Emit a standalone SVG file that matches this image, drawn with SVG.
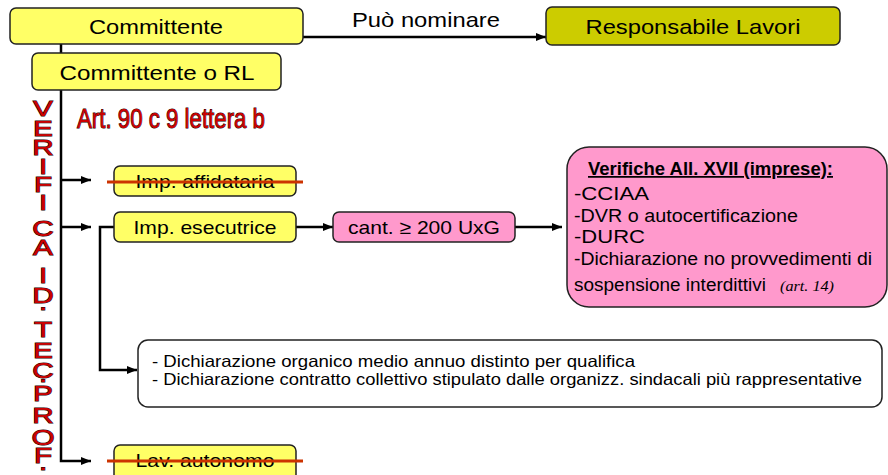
<svg xmlns="http://www.w3.org/2000/svg" width="888" height="475" viewBox="0 0 888 475">
<defs>
<marker id="arr" markerUnits="userSpaceOnUse" markerWidth="10" markerHeight="8" refX="10" refY="4" orient="auto">
<path d="M0,0 L10,4 L0,8 z" fill="#000"/>
</marker>
<style>
.box{stroke:#222;stroke-width:1.5}
.yel{fill:#ffff66}
.olive{fill:#cccc00}
.pink{fill:#ff99cc}
.wht{fill:#fff}
.t{font-family:"Liberation Sans",Arial,sans-serif;fill:#000}
.c{text-anchor:middle}
.conn{fill:none;stroke:#000;stroke-width:2.5}
.strike{stroke:#cc3300;stroke-width:3}
.red{font-family:"Liberation Sans",Arial,sans-serif;fill:#cc0000;stroke:#200;stroke-width:1;paint-order:stroke}
.vl{font-size:22px;text-anchor:middle}
</style>
</defs>
<rect width="888" height="475" fill="#fff"/>

<g id="connectors">
<path class="conn" d="M303,37 L546,37" marker-end="url(#arr)"/>
<path class="conn" d="M61,44 L61,461 L91,461" marker-end="url(#arr)"/>
<path class="conn" d="M61,180 L91,180" marker-end="url(#arr)"/>
<path class="conn" d="M61,227 L91,227" marker-end="url(#arr)"/>
<path class="conn" d="M114,227 L100,227 L100,370 L137,370" marker-end="url(#arr)"/>
<path class="conn" d="M296,227 L333,227" marker-end="url(#arr)"/>
<path class="conn" d="M515,227 L562,227" marker-end="url(#arr)"/>
</g>
<text class="t c" x="426" y="27" font-size="21" textLength="148" lengthAdjust="spacingAndGlyphs">Può nominare</text>

<g id="committente">
<rect class="box yel" x="10" y="8" width="293" height="36" rx="6"/>
<text class="t c" x="156" y="34" font-size="21" textLength="134" lengthAdjust="spacingAndGlyphs">Committente</text>
</g>
<g id="responsabile">
<rect class="box olive" x="546" y="7" width="294" height="38" rx="6"/>
<text class="t c" x="693" y="34" font-size="21" textLength="215" lengthAdjust="spacingAndGlyphs">Responsabile Lavori</text>
</g>
<g id="committente-rl">
<rect class="box yel" x="32" y="53" width="249" height="37" rx="6"/>
<text class="t c" x="157" y="80" font-size="21" textLength="195" lengthAdjust="spacingAndGlyphs">Committente o RL</text>
</g>

<g id="art">
<text class="red" x="77" y="128" font-size="28" textLength="188" lengthAdjust="spacingAndGlyphs">Art. 90 c 9 lettera b</text>
</g>

<g id="verifica" transform="translate(43,0) scale(1.35,1)">
<text class="red vl"><tspan x="0" y="116">V</tspan><tspan x="0" y="136">E</tspan><tspan x="0" y="155">R</tspan><tspan x="0" y="174">I</tspan><tspan x="0" y="192">F</tspan><tspan x="0" y="210">I</tspan><tspan x="0" y="236">C</tspan><tspan x="0" y="255">A</tspan><tspan x="0" y="283">I</tspan><tspan x="0" y="303">D</tspan><tspan x="0" y="310">.</tspan><tspan x="0" y="337">T</tspan><tspan x="0" y="358">E</tspan><tspan x="0" y="378">C</tspan><tspan x="0" y="382">.</tspan><tspan x="0" y="401">P</tspan><tspan x="0" y="423">R</tspan><tspan x="0" y="445">O</tspan><tspan x="0" y="463">F</tspan><tspan x="0" y="470">.</tspan></text>
</g>

<g id="imp-affidataria">
<rect class="box yel" x="114" y="166" width="182" height="30" rx="6"/>
<text class="t c" x="205" y="188" font-size="19" textLength="139" lengthAdjust="spacingAndGlyphs">Imp. affidataria</text>
<line class="strike" x1="107" y1="182" x2="303" y2="182"/>
</g>
<g id="imp-esecutrice">
<rect class="box yel" x="114" y="212" width="182" height="30" rx="6"/>
<text class="t c" x="205" y="234" font-size="19" textLength="143" lengthAdjust="spacingAndGlyphs">Imp. esecutrice</text>
</g>
<g id="cantiere">
<rect class="box pink" x="333" y="212" width="182" height="30" rx="6"/>
<text class="t c" x="424" y="234" font-size="19" textLength="152" lengthAdjust="spacingAndGlyphs">cant. ≥ 200 UxG</text>
</g>
<g id="verifiche">
<rect class="box pink" x="567" y="147" width="320" height="160" rx="22"/>
<text class="t" x="588" y="175" font-size="17.5" font-weight="bold" text-decoration="underline" textLength="245" lengthAdjust="spacingAndGlyphs">Verifiche All. XVII (imprese):</text>
<text class="t" x="574" y="200" font-size="17.5" textLength="75" lengthAdjust="spacingAndGlyphs">-CCIAA</text>
<text class="t" x="574" y="222" font-size="17.5" textLength="224" lengthAdjust="spacingAndGlyphs">-DVR o autocertificazione</text>
<text class="t" x="574" y="243" font-size="17.5" textLength="71" lengthAdjust="spacingAndGlyphs">-DURC</text>
<text class="t" x="574" y="265" font-size="17.5" textLength="298" lengthAdjust="spacingAndGlyphs">-Dichiarazione no provvedimenti di</text>
<text class="t" x="574" y="291" font-size="17.5" textLength="192" lengthAdjust="spacingAndGlyphs">sospensione interdittivi</text>
<text x="780" y="291" font-family="Liberation Serif,serif" font-style="italic" font-size="15" textLength="54" lengthAdjust="spacingAndGlyphs">(art. 14)</text>
</g>
<g id="dichiarazioni">
<rect class="box wht" x="138" y="340" width="744" height="67" rx="10"/>
<text class="t" x="152" y="367" font-size="16.5" textLength="483" lengthAdjust="spacingAndGlyphs">- Dichiarazione organico medio annuo distinto per qualifica</text>
<text class="t" x="152" y="385" font-size="16.5" textLength="710" lengthAdjust="spacingAndGlyphs">- Dichiarazione contratto collettivo stipulato dalle organizz. sindacali più rappresentative</text>
</g>
<g id="lav-autonomo">
<rect class="box yel" x="114" y="445" width="182" height="36" rx="6"/>
<text class="t c" x="205" y="467" font-size="19" textLength="139" lengthAdjust="spacingAndGlyphs">Lav. autonomo</text>
<line class="strike" x1="107" y1="461" x2="303" y2="461"/>
</g>
</svg>
